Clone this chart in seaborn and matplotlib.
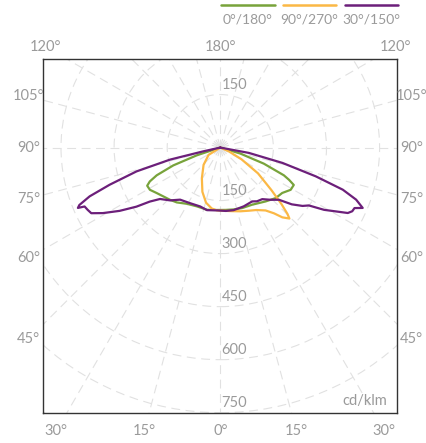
import matplotlib.pyplot as plt
import numpy as np
import pandas as pd
import seaborn as sns
from matplotlib.lines import Line2D
from matplotlib.patches import Circle

# luminous intensity per C-plane, gamma in degrees (0 = straight down, - = left half)
gamma_c0 = [-74, -71.7, -69.2, -66.4, -64.3, -62.4, -59.0, -54.4, -49.3, -43.9, -38.4,
            -30.7, -21.7, -12.1, -4, 5, 12, 19.8, 29.1, 40.0, 47.6, 53.7, 59.0, 63.0,
            64.8, 66.4, 69.7, 73.3, 75]
cd_c0 = [0, 70, 142, 196, 221, 233, 232, 221, 212, 205, 198,
         185, 179, 180, 177, 177, 179, 182, 185, 199, 212, 217, 232, 233,
         215, 196, 131, 59, 0]

gamma_c90 = [-68, -58, -44, -31, -22, -14.5, -8, -3, 3, 9, 17.5, 24.3, 30, 35.7,
             39.2, 41.6, 44.2, 45.3, 47.2, 50.2, 55.6, 61.1, 66, 69]
cd_c90 = [0, 39, 68, 101, 135, 161, 174, 178, 179, 182, 189, 196, 204, 219,
          240, 264, 280, 267, 236, 188, 129, 68, 26, 0]

gamma_c30 = [-79, -77.5, -76.5, -74.1, -71.4, -69.5, -67.8, -67.0, -66.5, -64.8, -63.0,
             -60.8, -57.8, -54.8, -52.5, -49.5, -43.5, -37.6, -28.5, -18.8, -12.0, -3.0,
             5, 12.0, 21.7, 30.6, 34.3, 39.1, 43.9, 48.3, 51.5, 54.6, 56.8, 59.0, 62.8,
             64.2, 65.7, 67.0, 69.0, 71.0, 73.2, 76.1, 79.4, 81]
cd_c30 = [0, 49, 146, 246, 330, 394, 430, 437, 418, 414, 409,
          380, 336, 290, 251, 224, 206, 186, 179, 176, 181, 178,
          180, 181, 179, 177, 184, 188, 205, 222, 258, 285, 299, 342, 405,
          414, 416, 437, 411, 366, 282, 181, 82, 0]

plane_labels = ["0°/180°", "90°/270°", "30°/150°"]
plane_colors = ["#78a33b", "#fbb845", "#6c1f7a"]

ring_values = [150, 300, 450, 600, 750]
side_angles = [-120, -105, -90, -75, -60, -45, -30, -15, 0, 15, 30, 45, 60, 75, 90, 105, 120, 180]

grey = "#9a9a9a"
grid = "#e1e1e1"

frames = []
for label, g, cd in zip(plane_labels, [gamma_c0, gamma_c90, gamma_c30], [cd_c0, cd_c90, cd_c30]):
    g = np.radians(g)
    cd = np.asarray(cd, dtype=float)
    frames.append(pd.DataFrame({"x": cd * np.sin(g), "y": -cd * np.cos(g), "plane": label}))
df = pd.concat(frames, ignore_index=True)

sns.set_style("white")
plt.rcParams["font.family"] = ["Lato", "DejaVu Sans"]

fig = plt.figure(figsize=(4.27, 4.43), dpi=100)
ax = fig.add_axes([0.1014, 0.0684, 0.829, 0.798])
ax.set_xlim(-500, 500)
ax.set_ylim(-750, 250)

# polar grid: dashed rings and spokes every 15 degrees
for r in ring_values + [900]:
    ax.add_patch(Circle((0, 0), r, fill=False, ec=grid, lw=0.8, ls=(0, (8, 5)), zorder=0))
for a in np.radians(np.arange(0, 360, 15)):
    ax.plot([0, 1200 * np.sin(a)], [0, -1200 * np.cos(a)], color=grid, lw=0.8,
            ls=(0, (8, 5)), zorder=0)

sns.lineplot(data=df, x="x", y="y", hue="plane", hue_order=plane_labels,
             palette=plane_colors, sort=False, estimator=None, legend=False,
             linewidth=1.6, ax=ax)

for r in ring_values:
    ax.text(4, -r + 27, str(r), color=grey, fontsize=10.5, ha="left", va="center")
    if r + 27 < 250:
        ax.text(4, r + 27, str(r), color=grey, fontsize=10.5, ha="left", va="center")

# angle labels sit where each spoke meets a rectangle just outside the frame
for a in side_angles:
    s, c = np.sin(np.radians(a)), -np.cos(np.radians(a))
    t = min(541 / abs(s) if abs(s) > 1e-6 else np.inf,
            (285 if c > 0 else 802) / abs(c) if abs(c) > 1e-6 else np.inf)
    ax.text(t * s, t * c, f"{abs(a)}°", color=grey, fontsize=10.5, ha="center",
            va="center", clip_on=False)

ax.text(0.971, 0.033, "cd/klm", transform=ax.transAxes, color=grey, fontsize=10.5,
        ha="right", va="center")

ax.set_xticks([])
ax.set_yticks([])
ax.set_xlabel("")
ax.set_ylabel("")
for sp in ax.spines.values():
    sp.set_color("#333333")
    sp.set_linewidth(1.0)

# legend: coloured bar with label underneath
for i, (label, color) in enumerate(zip(plane_labels, plane_colors)):
    x0 = 0.517 + i * 0.145
    fig.add_artist(Line2D([x0, x0 + 0.126], [0.988, 0.988], color=color, lw=1.8,
                          transform=fig.transFigure))
    fig.text(x0 + 0.063, 0.955, label, color=grey, fontsize=10, ha="center", va="center")

fig.savefig("out.png", dpi=100)
